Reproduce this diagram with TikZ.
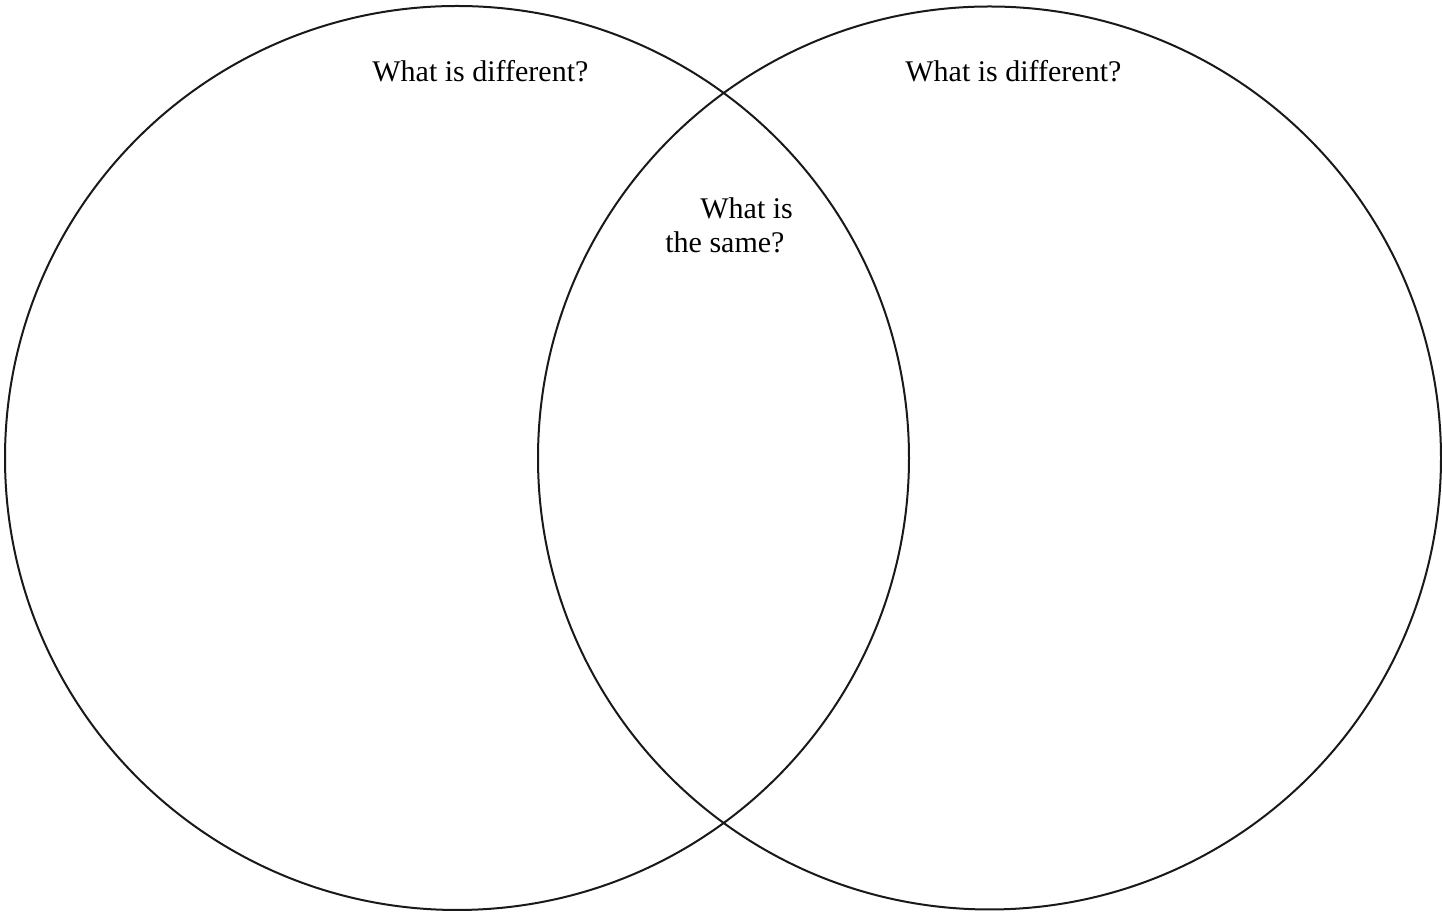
\documentclass[tikz,border=0pt]{standalone}
\usepackage{fontspec}
\setmainfont{Liberation Serif}
\usetikzlibrary{positioning}

\begin{document}
\begin{tikzpicture}[x=0.5pt, y=0.5pt]
\useasboundingbox (0,0) rectangle (1442,915);
\begin{scope}[every node/.style={font=\fontsize{15}{17}\selectfont, inner sep=0pt, anchor=base west}]

% the two sets
\draw [black!90, line width=1pt] (457,457)   circle (452);
\draw [black!90, line width=1pt] (989.5,457) circle (451.5);

% labels
\node (diffleft)  at (372,833) {What is different?};
\node (diffright) at (905,833) {What is different?};
\node (sameA)     at (700,696) {What is};
\node (sameB)     at (665,662) {the same?};

\end{scope}
\end{tikzpicture}
\end{document}
